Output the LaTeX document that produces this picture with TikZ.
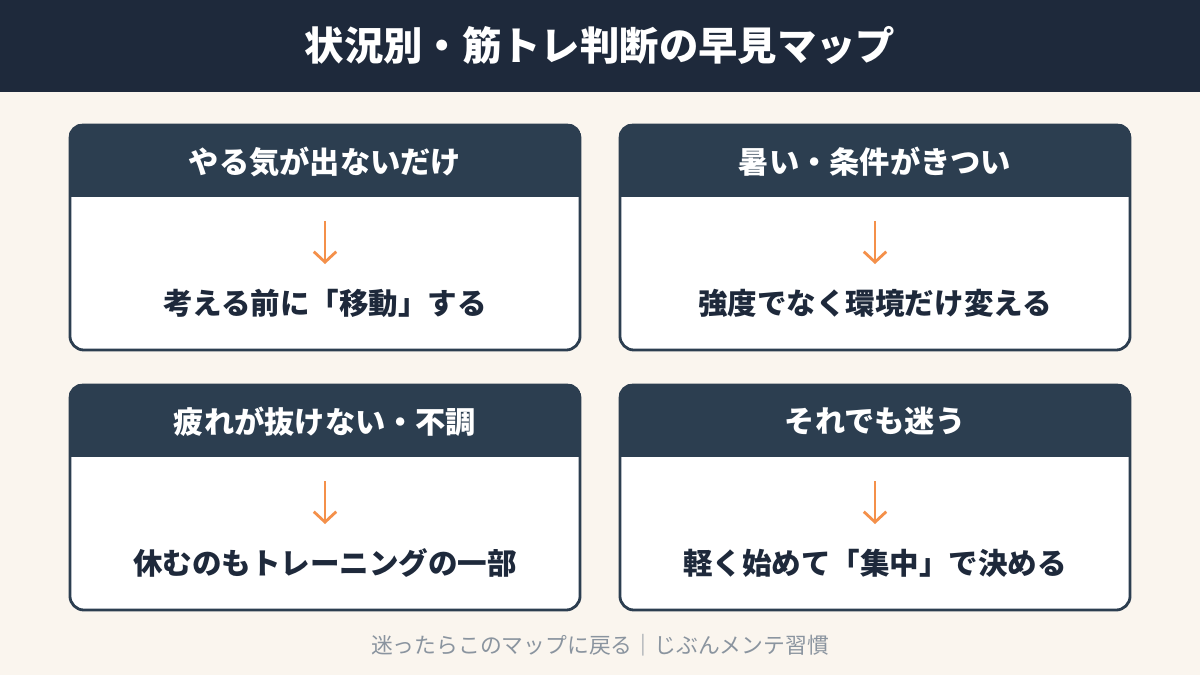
\documentclass[tikz,border=0pt]{standalone}
\usepackage{fontspec}
\setmainfont{Noto Sans CJK JP}
\usetikzlibrary{arrows.meta,positioning}

\definecolor{pagebg}{HTML}{FAF5EE}
\definecolor{titlebg}{HTML}{1E293B}
\definecolor{headbg}{HTML}{2C3E50}
\definecolor{bodyink}{HTML}{1E293B}
\definecolor{arrowink}{HTML}{F4904A}
\definecolor{footink}{HTML}{8A949F}

\begin{document}
\begin{tikzpicture}[x=0.025cm,y=-0.025cm]
\tikzset{
  card/.style={draw=headbg,line width=2pt,fill=white,rounded corners=10pt,minimum width=12.75cm,minimum height=5.625cm,inner sep=0pt},
  headtext/.style={text=white,font=\bfseries\fontsize{21.5}{26}\selectfont},
  bodytext/.style={text=bodyink,font=\bfseries\fontsize{21}{26}\selectfont},
  flow/.style={-{Straight Barb[length=2.6mm,width=5.6mm]},draw=arrowink,line width=2pt}
}
\useasboundingbox (0,0) rectangle (1200,675);
\fill[pagebg] (0,0) rectangle (1200,675);
\fill[titlebg] (0,0) rectangle (1200,92);
\node[text=white,font=\bfseries\fontsize{28}{32}\selectfont] (title) at (600,46) {状況別・筋トレ判断の早見マップ};

% cards
\node[card] (c_A) at (325,237.5) {};
\node[card] (c_B) at (875,237.5) {};
\node[card] (c_C) at (325,497.5) {};
\node[card] (c_D) at (875,497.5) {};

% header bands
\begin{scope}
  \clip[rounded corners=10pt] (c_A.north west) rectangle (c_A.south east);
  \fill[headbg] (c_A.north west) rectangle ([yshift=-1.825cm]c_A.north east);
\end{scope}
\begin{scope}
  \clip[rounded corners=10pt] (c_B.north west) rectangle (c_B.south east);
  \fill[headbg] (c_B.north west) rectangle ([yshift=-1.825cm]c_B.north east);
\end{scope}
\begin{scope}
  \clip[rounded corners=10pt] (c_C.north west) rectangle (c_C.south east);
  \fill[headbg] (c_C.north west) rectangle ([yshift=-1.825cm]c_C.north east);
\end{scope}
\begin{scope}
  \clip[rounded corners=10pt] (c_D.north west) rectangle (c_D.south east);
  \fill[headbg] (c_D.north west) rectangle ([yshift=-1.825cm]c_D.north east);
\end{scope}

\node[headtext] (h_A) at (325,161.5) {やる気が出ないだけ};
\node[headtext] (h_B) at (875,161.5) {暑い・条件がきつい};
\node[headtext] (h_C) at (325,421.5) {疲れが抜けない・不調};
\node[headtext] (h_D) at (875,421.5) {それでも迷う};

\node[bodytext] (b_A) at (325,303) {考える前に「移動」する};
\node[bodytext] (b_B) at (875,303) {強度でなく環境だけ変える};
\node[bodytext] (b_C) at (325,563) {休むのもトレーニングの一部};
\node[bodytext] (b_D) at (875,563) {軽く始めて「集中」で決める};

\coordinate (s_A) at (325,221); \coordinate (e_A) at (325,264);
\coordinate (s_B) at (875,221); \coordinate (e_B) at (875,264);
\coordinate (s_C) at (325,481); \coordinate (e_C) at (325,524);
\coordinate (s_D) at (875,481); \coordinate (e_D) at (875,524);
\draw[flow] (s_A) -- (e_A);
\draw[flow] (s_B) -- (e_B);
\draw[flow] (s_C) -- (e_C);
\draw[flow] (s_D) -- (e_D);

\node[text=footink,font=\fontsize{15.5}{18}\selectfont] (foot) at (600,645) {迷ったらこのマップに戻る｜じぶんメンテ習慣};
\end{tikzpicture}
\end{document}
